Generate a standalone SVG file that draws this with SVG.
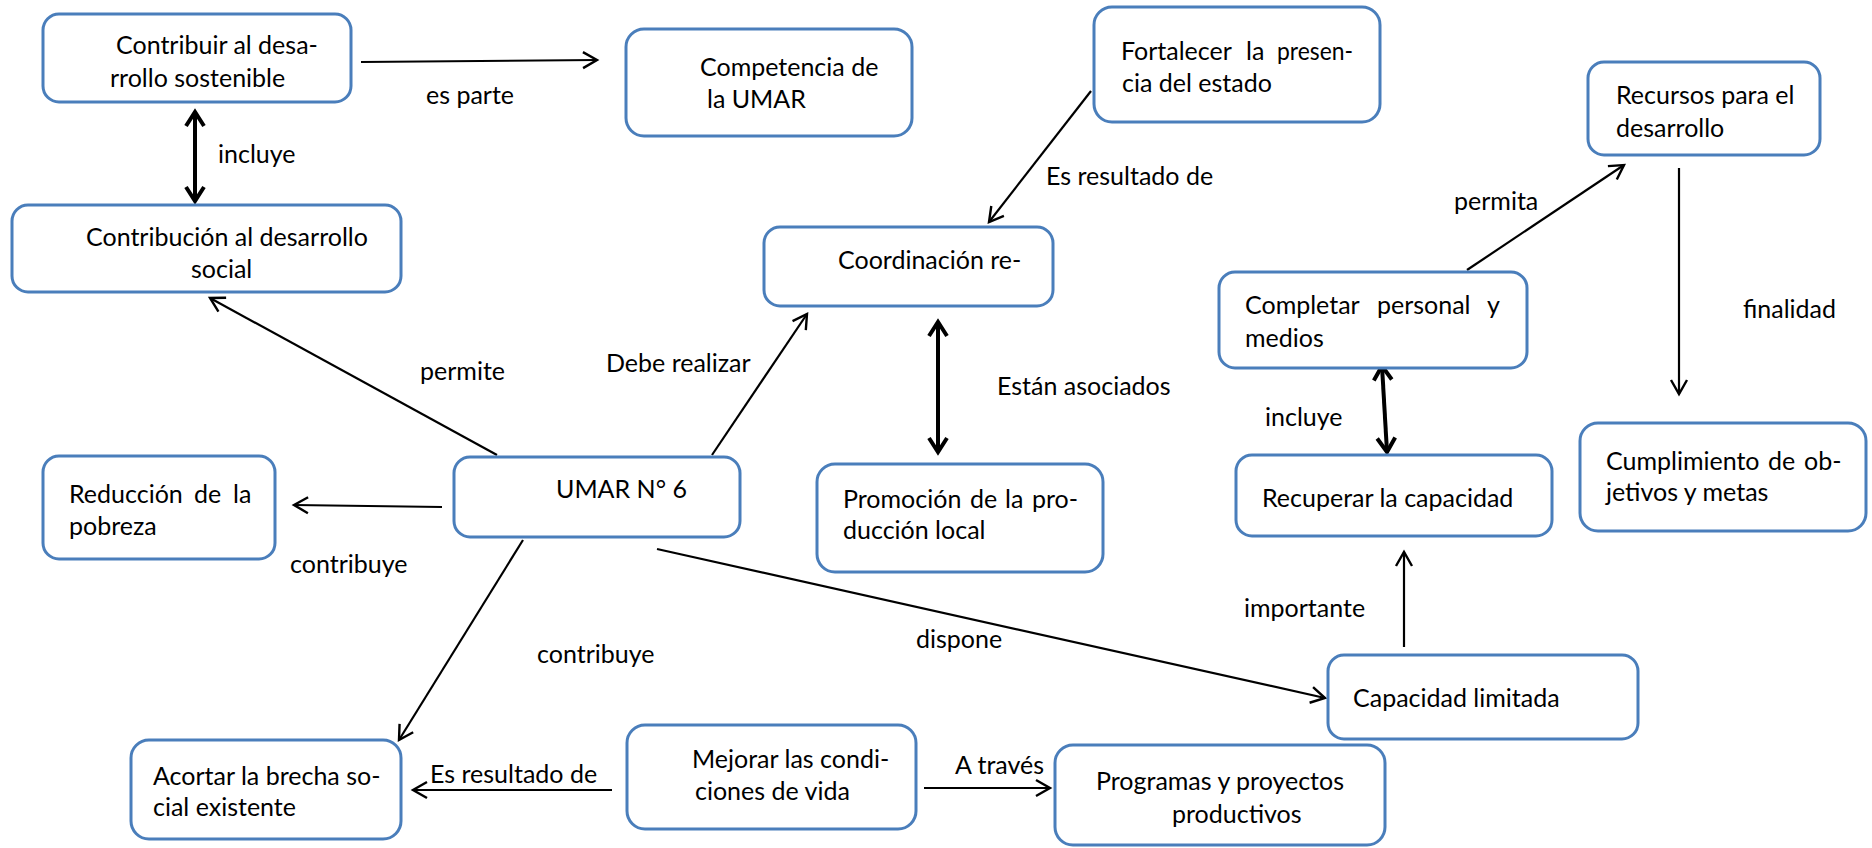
<svg xmlns="http://www.w3.org/2000/svg" width="1872" height="848" viewBox="0 0 1872 848">
<style>
.box{fill:#fff;stroke:#4a7ebb;stroke-width:3}
text{font-family:Lato,"Liberation Sans",sans-serif;font-size:25px;fill:#000}
.ln{stroke:#000;stroke-width:2.2;fill:none}
.dbl{stroke:#000;stroke-width:4;fill:none}
</style>
<defs>
<marker id="ah" markerUnits="userSpaceOnUse" viewBox="-2 -2 20 20" refX="14" refY="8" markerWidth="20" markerHeight="20" orient="auto" overflow="visible">
<path d="M0,0 L14,8 L0,16" fill="none" stroke="#000" stroke-width="2.4"/>
</marker>
<marker id="ahb" markerUnits="userSpaceOnUse" viewBox="-2 -2 20 22" refX="14" refY="9" markerWidth="20" markerHeight="22" orient="auto-start-reverse" overflow="visible">
<path d="M0,0 L14,9 L0,18" fill="none" stroke="#000" stroke-width="4"/>
</marker>
</defs>

<g id="connectors">
<line class="ln" x1="361" y1="62" x2="597" y2="60" marker-end="url(#ah)"/>
<text x="426" y="104">es parte</text>
<line class="dbl" x1="195" y1="112" x2="195" y2="201" marker-start="url(#ahb)" marker-end="url(#ahb)"/>
<text x="218" y="163">incluye</text>
<line class="ln" x1="1091" y1="91" x2="989" y2="222" marker-end="url(#ah)"/>
<text x="1046" y="185">Es resultado de</text>
<line class="ln" x1="497" y1="455" x2="210" y2="298" marker-end="url(#ah)"/>
<text x="420" y="380">permite</text>
<line class="ln" x1="712" y1="455" x2="807" y2="314" marker-end="url(#ah)"/>
<text x="606" y="372">Debe realizar</text>
<line class="dbl" x1="938" y1="322" x2="938" y2="452" marker-start="url(#ahb)" marker-end="url(#ahb)"/>
<text x="997" y="395">Están asociados</text>
<line class="ln" x1="442" y1="507" x2="294" y2="505" marker-end="url(#ah)"/>
<text x="290" y="573">contribuye</text>
<line class="ln" x1="523" y1="540" x2="399" y2="740" marker-end="url(#ah)"/>
<text x="537" y="663">contribuye</text>
<line class="ln" x1="657" y1="549" x2="1325" y2="698" marker-end="url(#ah)"/>
<text x="916" y="648">dispone</text>
<line class="ln" x1="612" y1="790" x2="413" y2="790" marker-end="url(#ah)"/>
<text x="430" y="783">Es resultado de</text>
<line class="ln" x1="924" y1="788" x2="1050" y2="788" marker-end="url(#ah)"/>
<text x="955" y="774">A través</text>
<line class="ln" x1="1467" y1="270" x2="1624" y2="165" marker-end="url(#ah)"/>
<text x="1454" y="210">permita</text>
<line class="ln" x1="1679" y1="168" x2="1679" y2="394" marker-end="url(#ah)"/>
<text x="1743" y="318">finalidad</text>
<line class="dbl" x1="1382" y1="366" x2="1387" y2="452" marker-start="url(#ahb)" marker-end="url(#ahb)"/>
<text x="1265" y="426">incluye</text>
<line class="ln" x1="1404" y1="647" x2="1404" y2="552" marker-end="url(#ah)"/>
<text x="1244" y="617">importante</text>
</g>

<g id="n1"><rect class="box" x="43" y="14" width="308" height="88" rx="16"/>
<text x="116" y="54">Contribuir al desa-</text><text x="110" y="87">rrollo sostenible</text></g>
<g id="n2"><rect class="box" x="626" y="29" width="286" height="107" rx="18"/>
<text x="700" y="76">Competencia de</text><text x="707" y="108">la UMAR</text></g>
<g id="n3"><rect class="box" x="1094" y="7" width="286" height="115" rx="18"/>
<text y="60"><tspan x="1121">Fortalecer</tspan><tspan x="1246">la</tspan><tspan x="1277" textLength="76" lengthAdjust="spacingAndGlyphs">presen-</tspan></text><text x="1122" y="92">cia del estado</text></g>
<g id="n4"><rect class="box" x="1588" y="62" width="232" height="93" rx="16"/>
<text x="1616" y="104">Recursos para el</text><text x="1616" y="137">desarrollo</text></g>
<g id="n5"><rect class="box" x="12" y="205" width="389" height="87" rx="16"/>
<text x="86" y="246">Contribución al desarrollo</text><text x="191" y="278">social</text></g>
<g id="n6"><rect class="box" x="764" y="227" width="289" height="79" rx="16"/>
<text x="838" y="269">Coordinación re-</text></g>
<g id="n7"><rect class="box" x="1219" y="272" width="308" height="96" rx="16"/>
<text y="314"><tspan x="1245">Completar</tspan><tspan x="1377">personal</tspan><tspan x="1487">y</tspan></text><text x="1245" y="347">medios</text></g>
<g id="n8"><rect class="box" x="1580" y="423" width="286" height="108" rx="18"/>
<text y="470"><tspan x="1606">Cumplimiento</tspan><tspan x="1768">de</tspan><tspan x="1804">ob-</tspan></text><text x="1606" y="501">jetivos y metas</text></g>
<g id="n9"><rect class="box" x="43" y="456" width="232" height="103" rx="16"/>
<text y="503"><tspan x="69">Reducción</tspan><tspan x="194">de</tspan><tspan x="233">la</tspan></text><text x="69" y="535">pobreza</text></g>
<g id="n10"><rect class="box" x="454" y="457" width="286" height="80" rx="16"/>
<text x="556" y="498">UMAR N° 6</text></g>
<g id="n11"><rect class="box" x="817" y="464" width="286" height="108" rx="18"/>
<text y="508"><tspan x="843">Promoción</tspan><tspan x="970">de</tspan><tspan x="1005">la</tspan><tspan x="1032">pro-</tspan></text><text x="843" y="539">ducción local</text></g>
<g id="n12"><rect class="box" x="1236" y="455" width="316" height="81" rx="16"/>
<text x="1262" y="507">Recuperar la capacidad</text></g>
<g id="n13"><rect class="box" x="1328" y="655" width="310" height="84" rx="16"/>
<text x="1353" y="707">Capacidad limitada</text></g>
<g id="n14"><rect class="box" x="131" y="740" width="270" height="99" rx="18"/>
<text x="153" y="785">Acortar la brecha so-</text><text x="153" y="816">cial existente</text></g>
<g id="n15"><rect class="box" x="627" y="725" width="289" height="104" rx="18"/>
<text x="692" y="768">Mejorar las condi-</text><text x="695" y="800">ciones de vida</text></g>
<g id="n16"><rect class="box" x="1055" y="745" width="330" height="100" rx="18"/>
<text x="1096" y="790">Programas y proyectos</text><text x="1172" y="823">productivos</text></g>
</svg>
